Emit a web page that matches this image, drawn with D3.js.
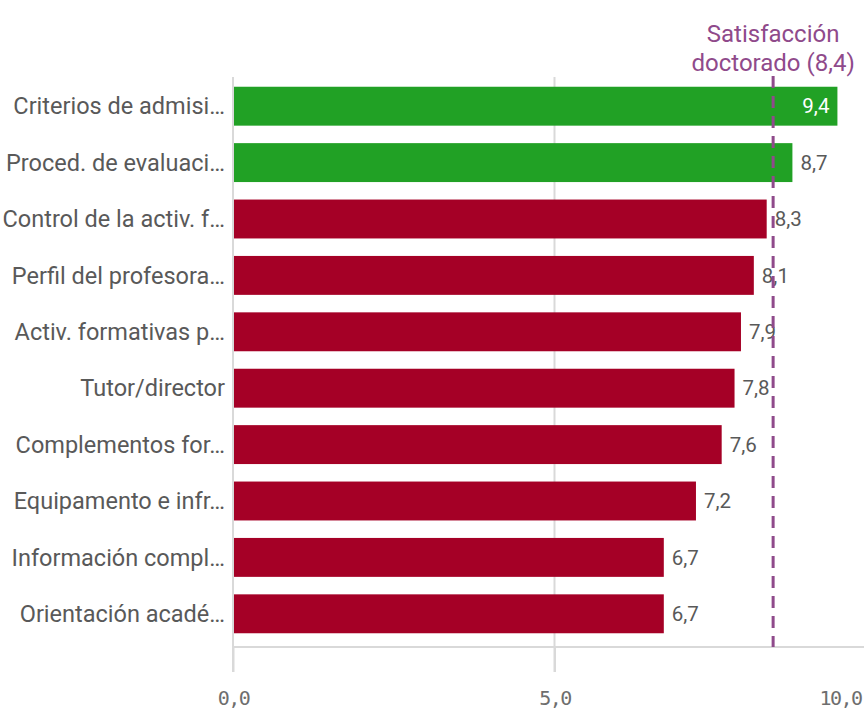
<!DOCTYPE html>
<html><head><meta charset="utf-8">
<script src="https://cdn.jsdelivr.net/npm/d3@7"></script>
<style>body{margin:0;background:#fff;}svg{display:block;}</style>
</head><body>
<svg id="c" width="864" height="712"></svg>
<script>
const categories = ["Criterios de admisi…","Proced. de evaluaci…","Control de la activ. f…","Perfil del profesora…","Activ. formativas p…","Tutor/director","Complementos for…","Equipamento e infr…","Información compl…","Orientación acadé…"];
const values = [9.4,8.7,8.3,8.1,7.9,7.8,7.6,7.2,6.7,6.7];
const refValue = 8.4;
const refLabel = ["Satisfacción","doctorado (8,4)"];
const tickValues = [0,5,10];

const svg = d3.select("#c");
const x = d3.scaleLinear().domain([0,10]).range([233,876]);
const y = d3.scaleBand().domain(categories).range([78,642]).paddingInner(0.31).paddingOuter(0.155);
const fmt = v => d3.format(".1f")(v).replace(".",",");
const green = "#21a125", red = "#a50026", purple = "#8f4a8b", grey = "#595959";

// gridline at 5 and axes
svg.append("line").attr("x1",x(5)).attr("x2",x(5)).attr("y1",77).attr("y2",672).attr("stroke","#d9d9d9").attr("stroke-width",2);
svg.append("line").attr("x1",x(0)).attr("x2",x(0)).attr("y1",77).attr("y2",672).attr("stroke","#d9d9d9").attr("stroke-width",2);
svg.append("line").attr("x1",x(0)).attr("x2",864).attr("y1",647).attr("y2",647).attr("stroke","#d9d9d9").attr("stroke-width",2);

const xAxis = svg.append("g").attr("transform","translate(0,647)")
  .call(d3.axisBottom(x).tickValues(tickValues).tickFormat(fmt).tickSize(25).tickPadding(19));
xAxis.select(".domain").remove();
xAxis.selectAll(".tick line").attr("stroke","#d9d9d9").attr("stroke-width",2);
xAxis.selectAll(".tick text").attr("fill","#6e6e6e").style("font-family","'DejaVu Sans Mono', monospace")
  .style("font-size","20px").style("letter-spacing","-1.5px")
  .attr("dx", d => d===10 ? -36 : 0);

// bars
svg.selectAll("rect.bar").data(values).enter().append("rect")
  .attr("x",x(0)+1).attr("y",(d,i)=>y(categories[i]))
  .attr("width",d=>x(d)-x(0)-1).attr("height",y.bandwidth())
  .attr("fill",d=>d>=refValue?green:red);

// category labels
svg.selectAll("text.cat").data(categories).enter().append("text")
  .attr("x",225).attr("y",d=>y(d)+y.bandwidth()/2).attr("dy","0.35em")
  .attr("text-anchor","end").attr("fill",grey)
  .style("font-family","Roboto, sans-serif").style("font-size","23.5px").text(d=>d);

// value labels
svg.selectAll("text.val").data(values).enter().append("text")
  .attr("x",(d,i)=> i===0 ? x(d)-8 : x(d)+8)
  .attr("y",(d,i)=>y(categories[i])+y.bandwidth()/2).attr("dy","0.35em")
  .attr("text-anchor",(d,i)=> i===0?"end":"start")
  .attr("fill",(d,i)=> i===0?"#ffffff":grey)
  .style("font-family","Roboto, sans-serif").style("font-size","20.5px").text(fmt);

// reference line
svg.append("line").attr("x1",x(refValue)).attr("x2",x(refValue)).attr("y1",76).attr("y2",647)
  .attr("stroke",purple).attr("stroke-width",3).attr("stroke-dasharray","12,8");
svg.selectAll("text.ref").data(refLabel).enter().append("text")
  .attr("x",x(refValue)).attr("y",(d,i)=>42+i*29).attr("text-anchor","middle").attr("fill",purple)
  .style("font-family","Roboto, sans-serif").style("font-size","24px").text(d=>d);
</script>
</body></html>
